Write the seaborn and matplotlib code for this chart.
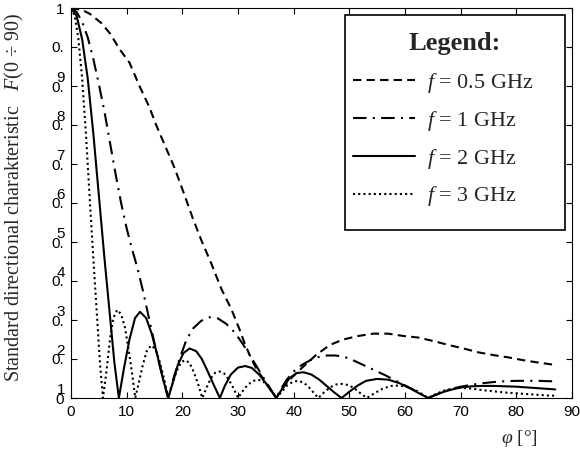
import numpy as np
import pandas as pd
import matplotlib
matplotlib.use("Agg")
import matplotlib.pyplot as plt
import matplotlib.transforms as mtransforms
from matplotlib.patches import Rectangle
import seaborn as sns

# ---------------- data ----------------
series_labels = ["$f$ = 0.5 GHz", "$f$ = 1 GHz", "$f$ = 2 GHz", "$f$ = 3 GHz"]

phi_05 = [0, 2, 3.4, 5.4, 7, 8.7, 10.5, 12.3, 14.1, 15.3, 16.8, 18.6, 20.4, 21.9,
          23.4, 25.2, 27, 28.8, 30.3, 31.2, 32.4, 33.3, 34.5, 35.7, 36.87,
          38, 39.5, 41.7, 44, 46.5, 48.9, 51.6, 54.3, 57, 59.7, 62.4, 65.1,
          67.8, 70.5, 73.2, 75.9, 78.6, 81.2, 83.9, 86.9]
F_05 = [1.0, 0.995, 0.985, 0.962, 0.935, 0.895, 0.86, 0.8, 0.745, 0.7, 0.65, 0.59,
        0.52, 0.46, 0.405, 0.345, 0.28, 0.228, 0.175, 0.14, 0.1, 0.075, 0.05,
        0.024, 0.0, 0.025, 0.05, 0.08, 0.11, 0.136, 0.15, 0.159, 0.165, 0.165,
        0.159, 0.155, 0.146, 0.136, 0.127, 0.117, 0.11, 0.104, 0.097, 0.091, 0.085]

phi_1 = [0, 1, 2, 3, 4, 5, 6, 7, 8, 9, 10, 11, 12, 13, 14, 15, 16, 16.8, 17.46,
         18.5, 19.5, 20.7, 21.9, 23.4, 24.9, 26.4, 27.9, 29.4, 30.8, 32.2, 33.6,
         35, 36, 36.87,
         37.8, 38.8, 40, 41.5, 43, 44.5, 46, 47.5, 49, 50.5, 52, 53.5, 55, 56.5,
         58, 59.5, 61, 62.5, 64.16,
         65.5, 67, 68.5, 70, 72, 74, 76, 78, 80, 82, 84, 86, 87]
F_1 = [1.0, 0.99, 0.965, 0.925, 0.87, 0.805, 0.735, 0.655, 0.575, 0.5, 0.435,
       0.38, 0.33, 0.27, 0.205, 0.14, 0.08, 0.035, 0.0,
       0.055, 0.1, 0.148, 0.178, 0.198, 0.207, 0.204, 0.19, 0.168, 0.14, 0.108,
       0.075, 0.042, 0.02, 0.0,
       0.025, 0.048, 0.068, 0.085, 0.097, 0.105, 0.109, 0.109, 0.106, 0.098,
       0.088, 0.078, 0.068, 0.058, 0.047, 0.036, 0.025, 0.013, 0.0,
       0.008, 0.017, 0.024, 0.029, 0.034, 0.038, 0.041, 0.043, 0.044, 0.044,
       0.044, 0.043, 0.043]

phi_2 = [0, 1, 2, 3, 4, 5, 6, 7, 7.8, 8.6,
         9.5, 10.5, 11.5, 12.4, 13.5, 14.5, 15.5, 16.5, 17.46,
         18.3, 19.2, 20.2, 21.3, 22.5, 23.5, 24.5, 25.6, 26.74,
         27.6, 28.7, 30, 31.3, 32.5, 33.8, 35, 36, 36.87,
         38, 39.2, 40.5, 41.8, 43.2, 44.6, 46, 47.4, 48.6,
         50, 51.5, 53, 55, 57, 59, 61, 62.8, 64.16,
         65.5, 67, 68.5, 70, 72, 74, 76, 78, 80, 82, 84, 86, 87]
F_2 = [1.0, 0.98, 0.92, 0.82, 0.68, 0.52, 0.36, 0.21, 0.09, 0.0,
       0.075, 0.15, 0.205, 0.221, 0.205, 0.165, 0.11, 0.05, 0.0,
       0.04, 0.085, 0.115, 0.127, 0.12, 0.1, 0.07, 0.035, 0.0,
       0.03, 0.06, 0.078, 0.082, 0.077, 0.06, 0.038, 0.018, 0.0,
       0.025, 0.05, 0.064, 0.066, 0.06, 0.047, 0.03, 0.013, 0.0,
       0.016, 0.032, 0.044, 0.049, 0.047, 0.038, 0.024, 0.01, 0.0,
       0.008, 0.016, 0.022, 0.027, 0.03, 0.031, 0.031, 0.03, 0.029, 0.027,
       0.025, 0.023, 0.022]

phi_3 = [0, 0.67, 1.33, 2, 2.67, 3.33, 4, 4.67, 5.2, 5.74,
         6.3, 7, 7.6, 8.3, 9, 9.7, 10.4, 11, 11.54,
         12.2, 12.9, 13.6, 14.4, 15.2, 16, 16.8, 17.46,
         18.2, 19, 19.8, 20.5, 21.3, 22.1, 22.9, 23.58,
         24.3, 25.1, 25.9, 26.7, 27.5, 28.3, 29.2, 30,
         30.8, 31.7, 32.6, 33.5, 34.4, 35.3, 36.1, 36.87,
         37.8, 38.8, 39.8, 40.7, 41.7, 42.6, 43.5, 44.43,
         45.5, 46.6, 47.7, 48.8, 49.9, 51, 52, 53.13,
         54.5, 56, 57.5, 59, 60.5, 62, 63.2, 64.16,
         65.5, 67, 68.5, 70, 72, 74, 76, 78, 80, 82, 84, 86, 87]
F_3 = [1.0, 0.98, 0.92, 0.82, 0.68, 0.52, 0.36, 0.21, 0.09, 0.0,
       0.06, 0.15, 0.205, 0.226, 0.215, 0.18, 0.12, 0.06, 0.0,
       0.04, 0.085, 0.12, 0.135, 0.125, 0.09, 0.045, 0.0,
       0.035, 0.07, 0.092, 0.097, 0.09, 0.065, 0.033, 0.0,
       0.025, 0.05, 0.065, 0.068, 0.063, 0.048, 0.025, 0.0,
       0.017, 0.033, 0.043, 0.047, 0.044, 0.032, 0.016, 0.0,
       0.015, 0.032, 0.041, 0.044, 0.04, 0.03, 0.015, 0.0,
       0.015, 0.028, 0.035, 0.036, 0.033, 0.024, 0.012, 0.0,
       0.012, 0.024, 0.031, 0.032, 0.028, 0.019, 0.009, 0.0,
       0.01, 0.019, 0.024, 0.026, 0.024, 0.02, 0.017, 0.014, 0.012, 0.01,
       0.008, 0.006, 0.006]

x_tick_values = [0, 10, 20, 30, 40, 50, 60, 70, 80, 90]
x_tick_labels = ["0", "10", "20", "30", "40", "50", "60", "70", "80", "90"]
y_tick_values = [0, 0.1, 0.2, 0.3, 0.4, 0.5, 0.6, 0.7, 0.8, 0.9, 1.0]
y_tick_labels = ["0", "0.1", "0.2", "0.3", "0.4", "0.5", "0.6", "0.7", "0.8", "0.9", "1"]

x_label = r"$\varphi$ [°]"
y_label = r"Standard directional charakteristic   $F$(0 ÷ 90)"
legend_title = "Legend:"

# ---------------- style ----------------
sns.set_theme(style="ticks")
plt.rcParams["font.family"] = ["Liberation Sans", "DejaVu Sans"]
plt.rcParams["mathtext.fontset"] = "custom"
plt.rcParams["mathtext.rm"] = "Liberation Serif"
plt.rcParams["mathtext.it"] = "Liberation Serif:italic"
plt.rcParams["mathtext.bf"] = "Liberation Serif:bold"
plt.rcParams["axes.edgecolor"] = "black"
plt.rcParams["axes.linewidth"] = 0.8

fig = plt.figure(figsize=(5.8, 4.5), dpi=100)
fig.patch.set_facecolor("white")
ax = fig.add_axes([71 / 580, 1 - 398 / 450, 501 / 580, 390 / 450])
ax.set_facecolor("white")

frames = []
for lab, xs, ys in zip(series_labels, [phi_05, phi_1, phi_2, phi_3],
                       [F_05, F_1, F_2, F_3]):
    frames.append(pd.DataFrame({"phi": xs, "F": ys, "series": lab}))
df = pd.concat(frames, ignore_index=True)

dash_map = {
    series_labels[0]: (4, 2.5),
    series_labels[1]: (6.5, 3, 1, 3),
    series_labels[2]: "",
    series_labels[3]: (1, 1.5),
}
sns.lineplot(data=df, x="phi", y="F", style="series", style_order=series_labels,
             dashes=dash_map, color="black", linewidth=1.5, estimator=None,
             sort=False, ax=ax, legend=True)

ax.set_xlim(0, 90)
ax.set_ylim(0, 1)
ax.set_xticks(x_tick_values)
ax.set_xticklabels(x_tick_labels)
ax.set_yticks(y_tick_values)
heads = [lab if "." not in lab else lab[:2] for lab in y_tick_labels]
ax.set_yticklabels(heads)
ax.tick_params(axis="both", direction="in", length=4, width=0.8, colors="black",
               labelsize=11, top=True, right=True, pad=5)
for s in ax.spines.values():
    s.set_visible(True)
    s.set_color("black")

# second line (digit) of each split y tick label
digit_off = mtransforms.ScaledTranslation(0, -31 / 100, fig.dpi_scale_trans)
for val, lab in zip(y_tick_values, y_tick_labels):
    if "." in lab:
        ax.text(-0.012, val, lab[2:], transform=ax.get_yaxis_transform() + digit_off,
                ha="right", va="center", fontsize=11, color="black")

ax.set_xlabel(x_label, fontsize=14, family="Liberation Serif")
ax.xaxis.set_label_coords(0.896, -0.078)
ax.set_ylabel(y_label, fontsize=14.5, family="Liberation Serif")
ax.yaxis.set_label_coords(-0.09, 0.515)

# legend: framed box, bold title and four entries
box = Rectangle((0.547, 0.431), 0.439, 0.551, transform=ax.transAxes,
                facecolor="white", edgecolor="black", linewidth=1.2, zorder=4)
ax.add_patch(box)
ax.text(0.7665, 0.91, legend_title, transform=ax.transAxes, ha="center",
        va="center", fontsize=19, fontweight="bold", family="Liberation Serif",
        zorder=6)
handles, labels = ax.get_legend_handles_labels()
leg = ax.legend(handles, labels, loc="upper left",
                bbox_to_anchor=((353 - 71) / 501, (398 - 71) / 390),
                borderaxespad=0, borderpad=0, frameon=False,
                prop={"family": "Liberation Serif", "size": 16},
                handlelength=2.8, handletextpad=0.55, labelspacing=0.62)
leg.set_zorder(6)
for h in leg.legend_handles:
    h.set_color("black")
    h.set_linewidth(1.5)

fig.savefig("out.png", dpi=100, facecolor="white")
